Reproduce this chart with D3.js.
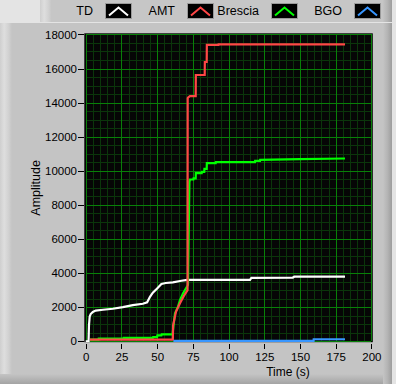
<!DOCTYPE html>
<html>
<head>
<meta charset="utf-8">
<script src="https://cdn.jsdelivr.net/npm/d3@7"></script>
<style>
  body { margin: 0; background: #e4e4e4; }
  text { font-family: "Liberation Sans", Arial, sans-serif; fill: #000; }
</style>
</head>
<body>
<div class="canvas"></div>
<script>
// series data (time in s, amplitude)
const tdTime  = [0, 2, 2.3, 2.8, 3.5, 5, 7, 12, 19, 26, 33, 40, 43, 45, 47, 50, 53, 56, 61, 67, 71, 115, 116, 145, 146, 181.5];
const tdAmp   = [0, 0, 950, 1460, 1600, 1720, 1800, 1850, 1910, 2000, 2120, 2200, 2290, 2610, 2850, 3100, 3360, 3420, 3460, 3550, 3600, 3600, 3720, 3740, 3790, 3790];

const amtTime = [3, 61, 61.2, 63.2, 66, 68.8, 71.3, 71.4, 72, 73, 77, 77.1, 83.3, 83.4, 84.7, 84.8, 92.9, 93, 181.5];
const amtAmp  = [100, 100, 950, 1730, 2230, 2670, 3000, 14260, 14320, 14380, 14380, 15620, 15620, 16380, 16380, 17380, 17380, 17420, 17420];

const brTime  = [3, 9, 9.1, 26.5, 26.6, 47, 47.2, 50, 50.2, 53, 53.2, 60.8, 61, 62.5, 64.6, 66, 68.1, 70.2, 71.6, 72.6, 73, 75.4, 75.5, 77, 77.1, 81.2, 81.3, 83, 83.1, 84.7, 84.8, 91, 91.1, 118.5, 118.6, 122, 122.1, 150, 181.5];
const brAmp   = [100, 100, 160, 160, 200, 200, 250, 250, 350, 350, 410, 410, 560, 1640, 2030, 2420, 2810, 3110, 3300, 9350, 9490, 9490, 9550, 9550, 9860, 9860, 9940, 9940, 10110, 10110, 10450, 10450, 10510, 10510, 10580, 10580, 10640, 10680, 10720];

const bgoTime = [61.4, 159.5, 159.6, 181.5];
const bgoAmp  = [30, 30, 120, 120];

const seriesNames  = ['TD', 'AMT', 'Brescia', 'BGO'];
const seriesColors = ['#ffffff', '#ff4646', '#00ff00', '#3896ff'];

const xTicks = [0, 25, 50, 75, 100, 125, 150, 175, 200];
const yTicks = [0, 2000, 4000, 6000, 8000, 10000, 12000, 14000, 16000, 18000];

const W = 396, H = 384;
const svg = d3.select('.canvas').append('svg')
    .attr('width', W)
    .attr('height', H);

// panel chrome
const defs = svg.append('defs');
const hGrad = (id, stops) => {
    const g = defs.append('linearGradient').attr('id', id);
    stops.forEach(s => g.append('stop').attr('offset', s[0]).attr('stop-color', s[1]));
};
hGrad('leftEdge', [[0, '#cfcfcf'], [0.35, '#dedede'], [0.7, '#d2d2d2'], [1, '#c4c4c4']]);
hGrad('rightEdge', [[0, '#c4c4c4'], [0.5, '#b4b4b4'], [1, '#9c9c9c']]);
const vg = defs.append('linearGradient').attr('id', 'bottomEdge').attr('x1', 0).attr('x2', 0).attr('y1', 0).attr('y2', 1);
vg.append('stop').attr('offset', 0).attr('stop-color', '#c4c4c4');
vg.append('stop').attr('offset', 1).attr('stop-color', '#a4a4a4');

svg.append('rect').attr('width', W).attr('height', H).attr('fill', '#e4e4e4');
// legend strip
svg.append('rect').attr('x', 40).attr('y', 0).attr('width', 352).attr('height', 22).attr('fill', '#c6c6c6');
svg.append('rect').attr('x', 40).attr('y', 0).attr('width', 12).attr('height', 22).attr('fill', 'url(#leftEdge)');
svg.append('rect').attr('x', 383).attr('y', 0).attr('width', 9).attr('height', 22).attr('fill', 'url(#rightEdge)');
// main panel
svg.append('rect').attr('x', 0).attr('y', 23).attr('width', 392).attr('height', 361).attr('fill', '#c4c4c4');
svg.append('rect').attr('x', 0).attr('y', 23).attr('width', 12).attr('height', 361).attr('fill', 'url(#leftEdge)');
svg.append('rect').attr('x', 0).attr('y', 374).attr('width', 392).attr('height', 10).attr('fill', 'url(#bottomEdge)');
svg.append('rect').attr('x', 383).attr('y', 23).attr('width', 9).attr('height', 361).attr('fill', 'url(#rightEdge)');

// scales
const x = d3.scaleLinear().domain([0, 200]).range([85.7, 371.4]);
const y = d3.scaleLinear().domain([0, 18000]).range([341.3, 34.4]);

// plot background
svg.append('rect')
    .attr('x', x(0) - 1.4).attr('y', y(18000) - 1.1)
    .attr('width', x(200) - x(0) + 2.8).attr('height', y(0) - y(18000) + 2)
    .attr('fill', '#060606');

svg.append('clipPath').attr('id', 'plotClip').append('rect')
    .attr('x', x(0) - 1.4).attr('y', y(18000) - 1.1)
    .attr('width', x(200) - x(0) + 2.8).attr('height', y(0) - y(18000) + 2);

const plot = svg.append('g').attr('clip-path', 'url(#plotClip)');

// grid: minor then major
const grid = plot.append('g').attr('shape-rendering', 'crispEdges');
grid.selectAll('.xminor').data(x.ticks(40)).enter().append('line')
    .attr('x1', d => Math.round(x(d)) + 0.5).attr('x2', d => Math.round(x(d)) + 0.5)
    .attr('y1', y(18000)).attr('y2', y(0))
    .attr('stroke', '#0b360b').attr('stroke-width', 1);
grid.selectAll('.yminor').data(y.ticks(36)).enter().append('line')
    .attr('y1', d => Math.round(y(d)) + 0.5).attr('y2', d => Math.round(y(d)) + 0.5)
    .attr('x1', x(0)).attr('x2', x(200))
    .attr('stroke', '#0b360b').attr('stroke-width', 1);
grid.selectAll('.xmajor').data(xTicks).enter().append('line')
    .attr('x1', d => Math.round(x(d)) + 0.5).attr('x2', d => Math.round(x(d)) + 0.5)
    .attr('y1', y(18000)).attr('y2', y(0))
    .attr('stroke', '#088008').attr('stroke-width', 1);
grid.selectAll('.ymajor').data(yTicks).enter().append('line')
    .attr('y1', d => Math.round(y(d)) + 0.5).attr('y2', d => Math.round(y(d)) + 0.5)
    .attr('x1', x(0)).attr('x2', x(200))
    .attr('stroke', '#088008').attr('stroke-width', 1);

// series lines
const line = d3.line().x(d => x(d.t)).y(d => y(d.v));
const zipSeries = (ts, vs) => ts.map((t, i) => ({ t: t, v: vs[i] }));
const series = [
    { name: 'TD', data: zipSeries(tdTime, tdAmp), color: seriesColors[0] },
    { name: 'Brescia', data: zipSeries(brTime, brAmp), color: seriesColors[2] },
    { name: 'AMT', data: zipSeries(amtTime, amtAmp), color: seriesColors[1] },
    { name: 'BGO', data: zipSeries(bgoTime, bgoAmp), color: seriesColors[3] }
];
plot.selectAll('.series').data(series).enter().append('path')
    .attr('class', 'series')
    .attr('d', d => line(d.data))
    .attr('fill', 'none')
    .attr('stroke', d => d.color)
    .attr('stroke-width', 2.2)
    .attr('stroke-linejoin', 'miter');

// axes
const yAxis = d3.axisLeft(y).tickValues(yTicks).tickSize(6).tickPadding(1).tickFormat(d3.format('d'));
const xAxis = d3.axisBottom(x).tickValues(xTicks).tickSize(5).tickPadding(4).tickFormat(d3.format('d'));

const yAxisGroup = svg.append('g').attr('transform', 'translate(84,0)').call(yAxis);
const xAxisGroup = svg.append('g').attr('transform', 'translate(0,344)').call(xAxis);
[yAxisGroup, xAxisGroup].forEach(g => {
    g.select('.domain').remove();
    g.selectAll('line').attr('stroke', '#000').attr('shape-rendering', 'crispEdges');
    g.selectAll('text').style('font-family', '"Liberation Sans", Arial, sans-serif').style('font-size', '11.5px').attr('fill', '#000');
});

// axis titles
svg.append('text')
    .attr('x', 288).attr('y', 376)
    .attr('text-anchor', 'middle')
    .style('font-size', '12px')
    .text('Time (s)');
svg.append('text')
    .attr('transform', `translate(40,${(y(0) + y(18000)) / 2}) rotate(-90)`)
    .attr('text-anchor', 'middle')
    .style('font-size', '12.5px')
    .text('Amplitude');

// legend
const legendX = [105, 187, 271, 354];
const legend = svg.selectAll('.legend').data(seriesNames).enter().append('g')
    .attr('class', 'legend')
    .attr('transform', (d, i) => `translate(${legendX[i]},3)`);
legend.append('text')
    .attr('x', -12).attr('y', 12)
    .attr('text-anchor', 'end')
    .style('font-size', '12.5px')
    .text(d => d);
legend.append('rect')
    .attr('x', 0.5).attr('y', 0.5).attr('width', 26).attr('height', 15)
    .attr('fill', '#000').attr('stroke', '#9a9a9a');
legend.append('path')
    .attr('d', 'M4,12.5L13.5,4.5L23,12.5')
    .attr('fill', 'none')
    .attr('stroke', (d, i) => seriesColors[i])
    .attr('stroke-width', 2);
</script>
</body>
</html>
